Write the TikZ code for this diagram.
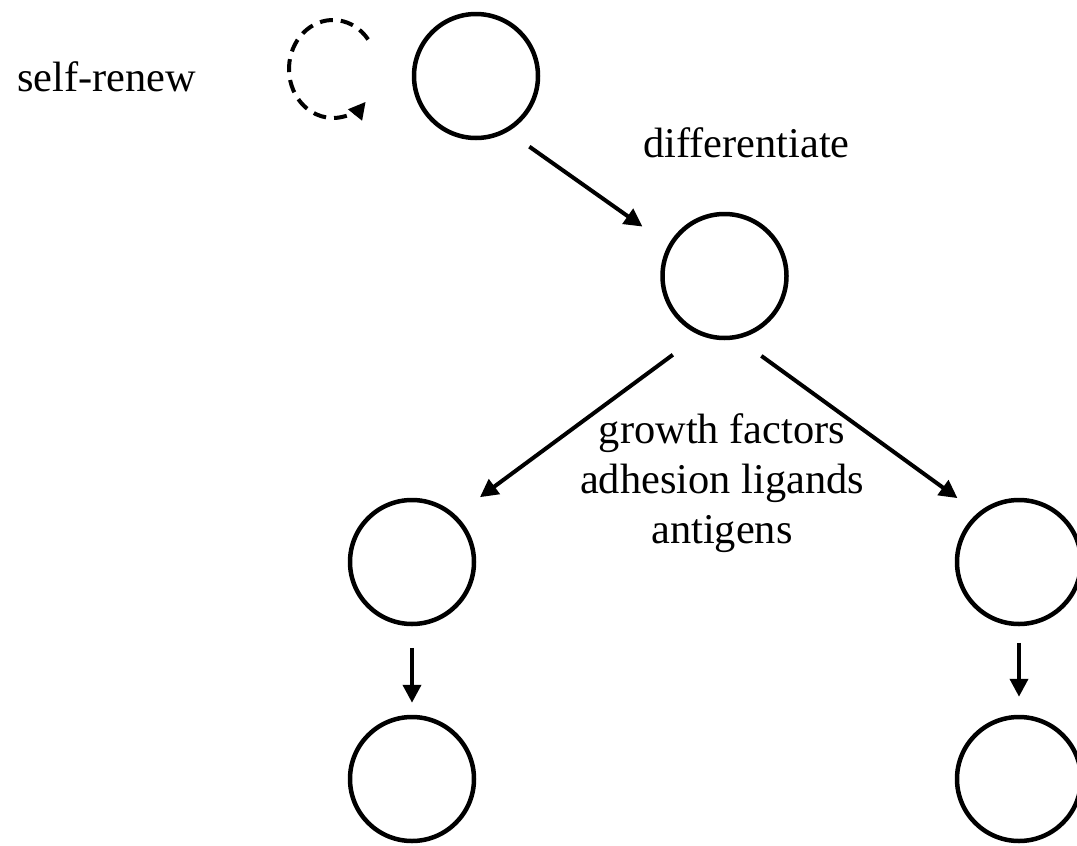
\documentclass[tikz,border=0pt]{standalone}
\usepackage{fontspec}
\setmainfont{Liberation Serif}
\usetikzlibrary{arrows.meta}
\tikzset{
  cell/.style={circle,draw,line width=4.5pt,minimum size=124pt,inner sep=0pt},
  conn/.style={line width=4pt,-{Triangle[length=18pt,width=18pt]}},
  lbl/.style={font=\fontsize{42.4}{50}\selectfont,inner sep=0pt}
}
\begin{document}
\begin{tikzpicture}[x=1pt,y=1pt]
\useasboundingbox (0,0) rectangle (1077,-846);
\node[cell] (A) at (476,-76) {};
\node[cell] (B) at (724.5,-276) {};
\node[cell] (C) at (412,-562) {};
\node[cell] (D) at (1019,-562) {};
\node[cell] (E) at (412,-779) {};
\node[cell] (F) at (1019,-779) {};
% self-renew loop
\coordinate (loopc) at (333,-69);
\draw[line width=4pt,dash pattern=on 13pt off 8pt,-{Triangle[length=17pt,width=17pt]}]
  ([shift={(37:44 and 49)}]loopc) arc[start angle=37,end angle=318,x radius=44,y radius=49];
\node[lbl,anchor=base west] (selfrenew) at (17,-91) {self-renew};
\node[lbl,anchor=base west] (diff) at (643,-157) {differentiate};
\node[lbl,anchor=base,align=center] (sig) at (722,-543) {growth factors\\adhesion ligands\\antigens};
% connectors
\draw[conn,shorten <=26pt,shorten >=31.7pt] (A.300.4) -- (B.151.7);
\draw[conn,shorten <=33pt,shorten >=30pt] (B.247.6) -- (C.47.2);
\draw[conn,shorten <=29pt,shorten >=25pt] (B.282.6) -- (D.130.3);
\draw[conn,shorten <=21.5pt,shorten >=12pt] (C.south) -- (E.north);
\draw[conn,shorten <=16.5pt,shorten >=18pt] (D.south) -- (F.north);
\end{tikzpicture}
\end{document}
